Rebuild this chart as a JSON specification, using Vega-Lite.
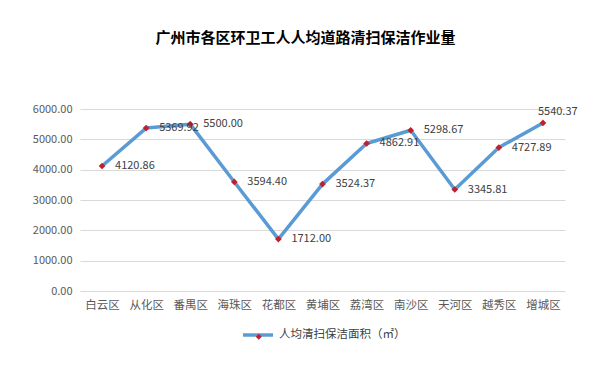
{
  "$schema": "https://vega.github.io/schema/vega-lite/v6.json",
  "autosize": "none",
  "width": 485,
  "height": 182,
  "padding": {"left": 80, "top": 109, "right": 48, "bottom": 92},
  "background": "white",
  "config": {
    "view": {"stroke": null},
    "font": "Noto Sans CJK SC"
  },
  "title": {
    "text": "广州市各区环卫工人人均道路清扫保洁作业量",
    "fontSize": 15,
    "fontWeight": "bold",
    "color": "#000000",
    "anchor": "middle",
    "dx": -17,
    "offset": 57
  },
  "data": {
    "values": [
      {"district": "白云区", "value": 4120.86, "series": "人均清扫保洁面积（㎡）"},
      {"district": "从化区", "value": 5369.92, "series": "人均清扫保洁面积（㎡）"},
      {"district": "番禺区", "value": 5500.00, "series": "人均清扫保洁面积（㎡）"},
      {"district": "海珠区", "value": 3594.40, "series": "人均清扫保洁面积（㎡）"},
      {"district": "花都区", "value": 1712.00, "series": "人均清扫保洁面积（㎡）"},
      {"district": "黄埔区", "value": 3524.37, "series": "人均清扫保洁面积（㎡）"},
      {"district": "荔湾区", "value": 4862.91, "series": "人均清扫保洁面积（㎡）"},
      {"district": "南沙区", "value": 5298.67, "series": "人均清扫保洁面积（㎡）"},
      {"district": "天河区", "value": 3345.81, "series": "人均清扫保洁面积（㎡）"},
      {"district": "越秀区", "value": 4727.89, "series": "人均清扫保洁面积（㎡）"},
      {"district": "增城区", "value": 5540.37, "series": "人均清扫保洁面积（㎡）"}
    ]
  },
  "encoding": {
    "x": {
      "field": "district",
      "type": "nominal",
      "sort": null,
      "axis": {
        "title": null,
        "labelAngle": 0,
        "labelFontSize": 11.5,
        "labelColor": "#595959",
        "labelPadding": 8,
        "ticks": false,
        "domain": false,
        "grid": false
      }
    },
    "y": {
      "field": "value",
      "type": "quantitative",
      "scale": {"domain": [0, 6000], "nice": false},
      "axis": {
        "title": null,
        "values": [0, 1000, 2000, 3000, 4000, 5000, 6000],
        "format": ".2f",
        "labelFontSize": 11,
        "labelColor": "#595959",
        "labelPadding": 8,
        "ticks": false,
        "domain": false,
        "grid": true,
        "gridColor": "#D9D9D9",
        "gridWidth": 1
      }
    }
  },
  "layer": [
    {
      "mark": {"type": "line", "strokeWidth": 3.5, "strokeJoin": "round", "strokeCap": "round"},
      "encoding": {
        "stroke": {
          "field": "series",
          "type": "nominal",
          "scale": {"range": ["#5B9BD5"]},
          "legend": {
            "title": null,
            "orient": "none",
            "legendX": 161,
            "legendY": 209,
            "padding": 0,
            "symbolType": "stroke",
            "symbolSize": 900,
            "symbolStrokeWidth": 3.5,
            "labelFontSize": 11.5,
            "labelColor": "#404040",
            "labelOffset": 4
          }
        }
      }
    },
    {
      "mark": {"type": "point", "shape": "diamond", "filled": true, "size": 45, "opacity": 1, "strokeWidth": 0},
      "encoding": {
        "fill": {
          "datum": "人均清扫保洁面积（㎡）",
          "scale": {"range": ["#C0202E"]},
          "legend": {
            "title": null,
            "orient": "none",
            "legendX": 173,
            "legendY": 222,
            "padding": 0,
            "symbolType": "diamond",
            "symbolSize": 36,
            "symbolStrokeWidth": 0,
            "labelExpr": "''",
            "labelFontSize": 11.5
          }
        }
      }
    },
    {
      "transform": [{"filter": "datum.district !== '增城区'"}],
      "mark": {"type": "text", "align": "left", "baseline": "middle", "dx": 13, "fontSize": 11, "color": "#404040"},
      "encoding": {
        "text": {"field": "value", "type": "quantitative", "format": ".2f"}
      }
    },
    {
      "transform": [{"filter": "datum.district === '增城区'"}],
      "mark": {"type": "text", "align": "left", "baseline": "middle", "dx": -5, "dy": -11, "fontSize": 11, "color": "#404040"},
      "encoding": {
        "text": {"field": "value", "type": "quantitative", "format": ".2f"}
      }
    }
  ]
}
